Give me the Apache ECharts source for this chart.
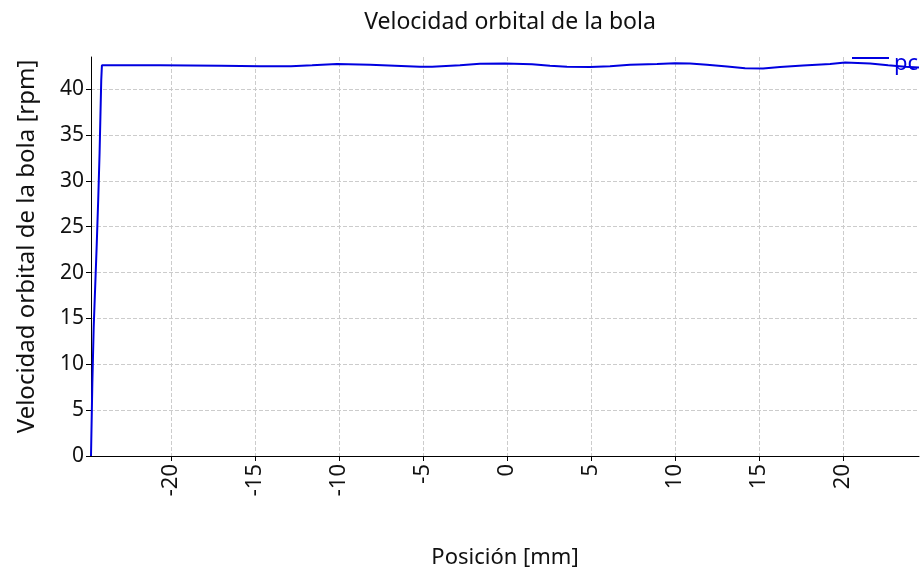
<!DOCTYPE html>
<html>
<head>
<meta charset="utf-8">
<script src="https://cdn.jsdelivr.net/npm/echarts@6/dist/echarts.min.js"></script>
<style>html,body{margin:0;padding:0;background:#fff}#c{width:924px;height:576px}</style>
</head>
<body>
<div id="c"></div>
<script>
const title = 'Velocidad orbital de la bola';
const xName = 'Posición [mm]';
const yName = 'Velocidad orbital de la bola [rpm]';
const seriesName = 'pc';
const xTicks = [-20, -15, -10, -5, 0, 5, 10, 15, 20];
const posMm = [-24.76, -24.72, -24.68, -24.6, -24.5, -24.42, -24.33, -24.25, -24.2, -24.15, -24.11,
  -20.65, -17.02, -14.70, -12.86, -11.6, -10.12, -9.46, -8.15, -6.67, -5.18, -4.46, -2.80, -1.61,
  -0.12, 1.49, 2.56, 3.57, 4.94, 6.13, 7.32, 8.93, 10.0, 10.89, 11.9, 13.1, 14.17, 15.24, 16.25,
  17.62, 19.23, 20.12, 21.61, 22.68, 23.69, 24.52];
const rpm = [0, 4, 8, 14, 19, 23, 28, 33, 37, 41, 42.6,
  42.6, 42.55, 42.5, 42.5, 42.6, 42.75, 42.72, 42.65, 42.55, 42.43, 42.45, 42.6, 42.77,
  42.78, 42.7, 42.55, 42.43, 42.4, 42.5, 42.65, 42.75, 42.83, 42.8, 42.65, 42.47, 42.27, 42.25, 42.4,
  42.58, 42.75, 42.9, 42.8, 42.6, 42.45, 42.35];

const font = 'Noto Sans';
const chart = echarts.init(document.getElementById('c'), null, {renderer: 'canvas'});
chart.setOption({
  animation: false,
  backgroundColor: '#ffffff',
  title: {
    text: title, left: 505, textAlign: 'center', top: 6,
    textStyle: {fontFamily: font, fontSize: 23, fontWeight: 'normal', color: '#111'}
  },
  legend: {
    left: 852, top: 53, itemGap: 4, padding: 0,
    itemWidth: 37, itemHeight: 14,
    icon: 'path://M0,0H40V2H0Z M0,15H0.01V15.01H0Z',
    textStyle: {fontFamily: font, fontSize: 22, color: '#0000e0', padding: [9, 0, 0, 0]},
    data: [seriesName]
  },
  grid: {left: 91, right: 5, top: 57, bottom: 120},
  xAxis: {
    type: 'value', min: -24.76, max: 24.52,
    name: xName, nameLocation: 'middle', nameGap: 91,
    nameTextStyle: {fontFamily: font, fontSize: 22, color: '#111'},
    axisLine: {onZero: false, lineStyle: {color: '#000', width: 1}},
    axisTick: {show: true, length: 5, customValues: xTicks, lineStyle: {color: '#000'}},
    axisLabel: {customValues: xTicks, rotate: 90, fontFamily: font, fontSize: 22, color: '#111', margin: 8},
    splitLine: {show: true, lineStyle: {type: 'dashed', color: '#cccccc'}}
  },
  yAxis: {
    type: 'value', min: 0, max: 43.5, interval: 5,
    name: yName, nameLocation: 'middle', nameGap: 52,
    nameTextStyle: {fontFamily: font, fontSize: 24, color: '#111', padding: [0, 0, 0, 20]},
    axisLine: {show: true, onZero: false, lineStyle: {color: '#000', width: 1}},
    axisTick: {show: true, length: 5, lineStyle: {color: '#000'}},
    axisLabel: {fontFamily: font, fontSize: 21, color: '#111', margin: 7, showMaxLabel: false},
    splitLine: {show: true, showMaxLine: false, showMinLine: false, lineStyle: {type: 'dashed', color: '#cccccc'}}
  },
  series: [{
    name: seriesName, type: 'line', showSymbol: false, smooth: false,
    color: '#0000e0',
    lineStyle: {width: 2, color: '#0000e0'},
    data: posMm.map((x, i) => [x, rpm[i]])
  }]
});
</script>
</body>
</html>
